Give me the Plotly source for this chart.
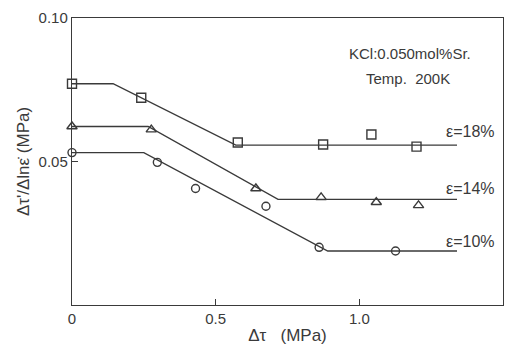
import plotly.graph_objects as go

# Measured points
sq_x = [0.0, 0.241, 0.577, 0.874, 1.042, 1.199]
sq_y = [0.0771, 0.0722, 0.0566, 0.0559, 0.0594, 0.0552]
tri_x = [0.0, 0.276, 0.640, 0.867, 1.059, 1.206]
tri_y = [0.0622, 0.0611, 0.0406, 0.0375, 0.0358, 0.0347]
cir_x = [0.0, 0.297, 0.430, 0.675, 0.860, 1.126]
cir_y = [0.0531, 0.0497, 0.0406, 0.0344, 0.0201, 0.0188]

# Fitted lines (breakpoints)
fit18_x = [0.0, 0.143, 0.570, 1.34]
fit18_y = [0.0771, 0.0771, 0.0557, 0.0557]
fit14_x = [0.0, 0.265, 0.717, 1.34]
fit14_y = [0.0622, 0.0622, 0.0368, 0.0368]
fit10_x = [0.0, 0.250, 0.890, 1.34]
fit10_y = [0.0531, 0.0531, 0.0188, 0.0188]

curve_labels = ["ε=18%", "ε=14%", "ε=10%"]
label_x = [1.295, 1.295, 1.295]
label_y = [0.0603, 0.0405, 0.0222]

x_ticks = [0, 0.5, 1.0, 1.5]
x_tick_text = ["0", "0.5", "1.0", "1.5"]
y_ticks = [0.05, 0.10]
y_tick_text = ["0.05", "0.10"]

ink = "#3a3a3a"
font = "Liberation Sans"

fig = go.Figure()
for fx, fy in [(fit18_x, fit18_y), (fit14_x, fit14_y), (fit10_x, fit10_y)]:
    fig.add_trace(go.Scatter(x=fx, y=fy, mode="lines",
                             line=dict(color=ink, width=1.4), showlegend=False,
                             cliponaxis=False))
for px, py, sym, sz in [(sq_x, sq_y, "square-open", 9),
                        (tri_x, tri_y, "triangle-up-open", 9),
                        (cir_x, cir_y, "circle-open", 8)]:
    fig.add_trace(go.Scatter(x=px, y=py, mode="markers",
                             marker=dict(symbol=sym, size=sz, color=ink,
                                         line=dict(width=1.4, color=ink)),
                             showlegend=False, cliponaxis=False))

for t, lx, ly in zip(curve_labels, label_x, label_y):
    fig.add_annotation(x=lx, y=ly, text=t, showarrow=False, xanchor="left",
                       yanchor="middle", font=dict(size=16, color=ink, family=font))

fig.add_annotation(x=1.178, y=0.0878, text="KCl:0.050mol%Sr.", showarrow=False,
                   xanchor="center", font=dict(size=15, color=ink, family=font))
fig.add_annotation(x=1.168, y=0.0788, text="Temp.  200K", showarrow=False,
                   xanchor="center", font=dict(size=15, color=ink, family=font))

fig.update_xaxes(range=[0, 1.5], tickvals=x_ticks, ticktext=x_tick_text,
                 ticks="inside", ticklen=6, tickcolor=ink, showgrid=False,
                 zeroline=False, showline=True, linecolor=ink, linewidth=1.4,
                 mirror=True, tickfont=dict(size=15, color=ink, family=font),
                 title=dict(text="Δτ   (MPa)", font=dict(size=17, color=ink, family=font),
                            standoff=2))
fig.update_yaxes(range=[0, 0.10], tickvals=y_ticks, ticktext=y_tick_text,
                 ticks="inside", ticklen=6, tickcolor=ink, showgrid=False,
                 zeroline=False, showline=True, linecolor=ink, linewidth=1.4,
                 mirror=True, tickfont=dict(size=15, color=ink, family=font),
                 title=dict(text="Δτ'/Δlnε̇ (MPa)", font=dict(size=17, color=ink, family=font),
                            standoff=4))

fig.update_layout(width=510, height=347, margin=dict(l=72, r=7, t=18, b=42),
                  paper_bgcolor="white", plot_bgcolor="white")

fig.write_html("out.html")
